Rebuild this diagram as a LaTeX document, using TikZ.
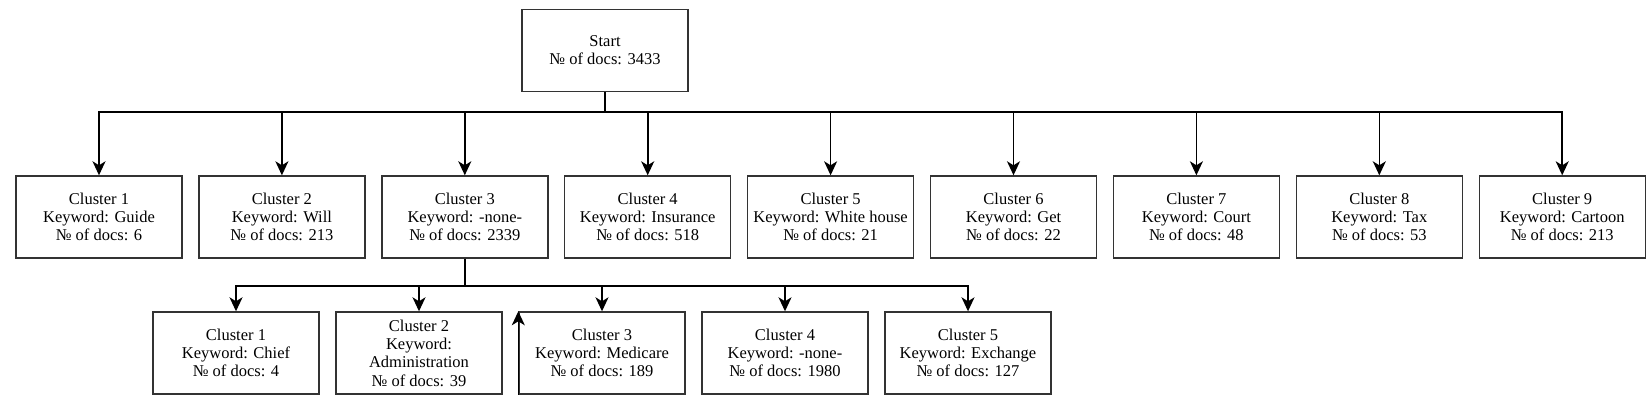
\documentclass[tikz,border=0pt]{standalone}
\usepackage{fontspec}
\setmainfont{Liberation Serif}
\usetikzlibrary{arrows.meta}
\definecolor{boxline}{HTML}{333333}
\begin{document}
\begin{tikzpicture}[x=1pt,y=-1pt,
  box/.style={draw=boxline,line width=1.4pt,minimum width=166pt,minimum height=82pt,inner sep=0pt,align=center,font=\fontsize{16.5}{18.3}\selectfont},
  arr/.style={draw=black,line width=1.6pt,-{Stealth[length=14pt,width=13pt,inset=4pt]}},
  ln/.style={draw=black,line width=1.6pt}]
\useasboundingbox[fill=white] (0,0) rectangle (1651,404);
\node[box] (start) at (605,50.5) {Start\\№ of docs: 3433};
\node[box] (c1) at (99,217) {Cluster 1\\Keyword: Guide\\№ of docs: 6};
\node[box] (c2) at (281.9,217) {Cluster 2\\Keyword: Will\\№ of docs: 213};
\node[box] (c3) at (464.8,217) {Cluster 3\\Keyword: -none-\\№ of docs: 2339};
\node[box] (c4) at (647.7,217) {Cluster 4\\Keyword: Insurance\\№ of docs: 518};
\node[box] (c5) at (830.6,217) {Cluster 5\\Keyword: White house\\№ of docs: 21};
\node[box] (c6) at (1013.5,217) {Cluster 6\\Keyword: Get\\№ of docs: 22};
\node[box] (c7) at (1196.4,217) {Cluster 7\\Keyword: Court\\№ of docs: 48};
\node[box] (c8) at (1379.3,217) {Cluster 8\\Keyword: Tax\\№ of docs: 53};
\node[box] (c9) at (1562.2,217) {Cluster 9\\Keyword: Cartoon\\№ of docs: 213};
\node[box] (s1) at (236,353) {Cluster 1\\Keyword: Chief\\№ of docs: 4};
\node[box] (s2) at (419,353) {Cluster 2\\Keyword:\\Administration\\№ of docs: 39};
\node[box] (s3) at (602,353) {Cluster 3\\Keyword: Medicare\\№ of docs: 189};
\node[box] (s4) at (785,353) {Cluster 4\\Keyword: -none-\\№ of docs: 1980};
\node[box] (s5) at (968,353) {Cluster 5\\Keyword: Exchange\\№ of docs: 127};
\coordinate (t) at (605,112);
\coordinate (u) at (464.8,286);
\draw[ln] (start.south) -- (t);
\foreach \n in {c1,c2,c3,c4,c5,c6,c7,c8,c9}{\draw[arr] (t) -| (\n.north);}
\draw[ln] (c3.south) -- (u);
\foreach \n in {s1,s2,s3,s4,s5}{\draw[arr] (u) -| (\n.north);}
\draw[arr] (s3.south west) -- (s3.north west);
\end{tikzpicture}
\end{document}
